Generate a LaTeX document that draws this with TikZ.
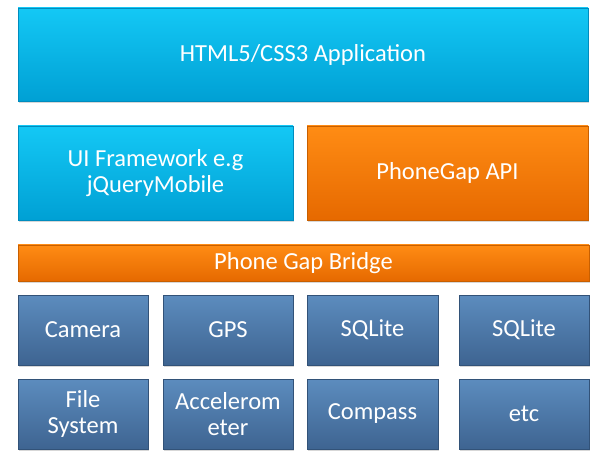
\documentclass[tikz,border=0pt]{standalone}
\usepackage{fontspec}
\setmainfont{Carlito}
\usetikzlibrary{shadows}
\definecolor{cyantop}{RGB}{20,200,245}
\definecolor{cyanbot}{RGB}{0,160,212}
\definecolor{cyanline}{RGB}{0,140,190}
\definecolor{orangetop}{RGB}{255,140,20}
\definecolor{orangebot}{RGB}{230,105,0}
\definecolor{orangeline}{RGB}{200,95,0}
\definecolor{bluetop}{RGB}{92,140,190}
\definecolor{bluebot}{RGB}{62,100,145}
\definecolor{blueline}{RGB}{50,82,120}
\tikzset{
  layer/.style={text=white,align=center,inner sep=0pt,
    font=\fontsize{24.5}{25.5}\selectfont,
    drop shadow={shadow xshift=1.2pt,shadow yshift=-1.8pt,opacity=0.35,fill=black!45}},
  cyanbox/.style={layer,draw=cyanline,line width=0.6pt,top color=cyantop,bottom color=cyanbot},
  orangebox/.style={layer,draw=orangeline,line width=0.6pt,top color=orangetop,bottom color=orangebot},
  bluebox/.style={layer,draw=blueline,line width=0.6pt,top color=bluetop,bottom color=bluebot,
    minimum width=130pt,minimum height=70pt}
}
\begin{document}
\begin{tikzpicture}[x=1pt,y=-1pt]
\useasboundingbox (0,0) rectangle (600,457);
\node[cyanbox,minimum width=570pt,minimum height=93pt] (app) at (303,54.5) {HTML5/CSS3 Application};
\node[cyanbox,minimum width=275pt,minimum height=94pt] (ui) at (155.5,173) {UI Framework e.g\\jQueryMobile};
\node[orangebox,minimum width=281pt,minimum height=94pt] (api) at (447.5,173) {PhoneGap API};
\node[orangebox,minimum width=571pt,minimum height=36pt] (bridge) at (303.5,263) {Phone Gap Bridge};
\node[bluebox] (camera) at (83,330) {Camera};
\node[bluebox] (gps) at (228,330) {GPS};
\node[bluebox,minimum width=131pt] (sqlite) at (372.5,330) {SQLite};
\node[bluebox] (sqlitetwo) at (524,330) {SQLite};
\node[bluebox] (files) at (83,414) {File\\System};
\node[bluebox] (accel) at (228,414) {Accelerom\\eter};
\node[bluebox,minimum width=131pt] (compass) at (372.5,414) {Compass};
\node[bluebox] (etc) at (524,414) {etc};
\end{tikzpicture}
\end{document}
